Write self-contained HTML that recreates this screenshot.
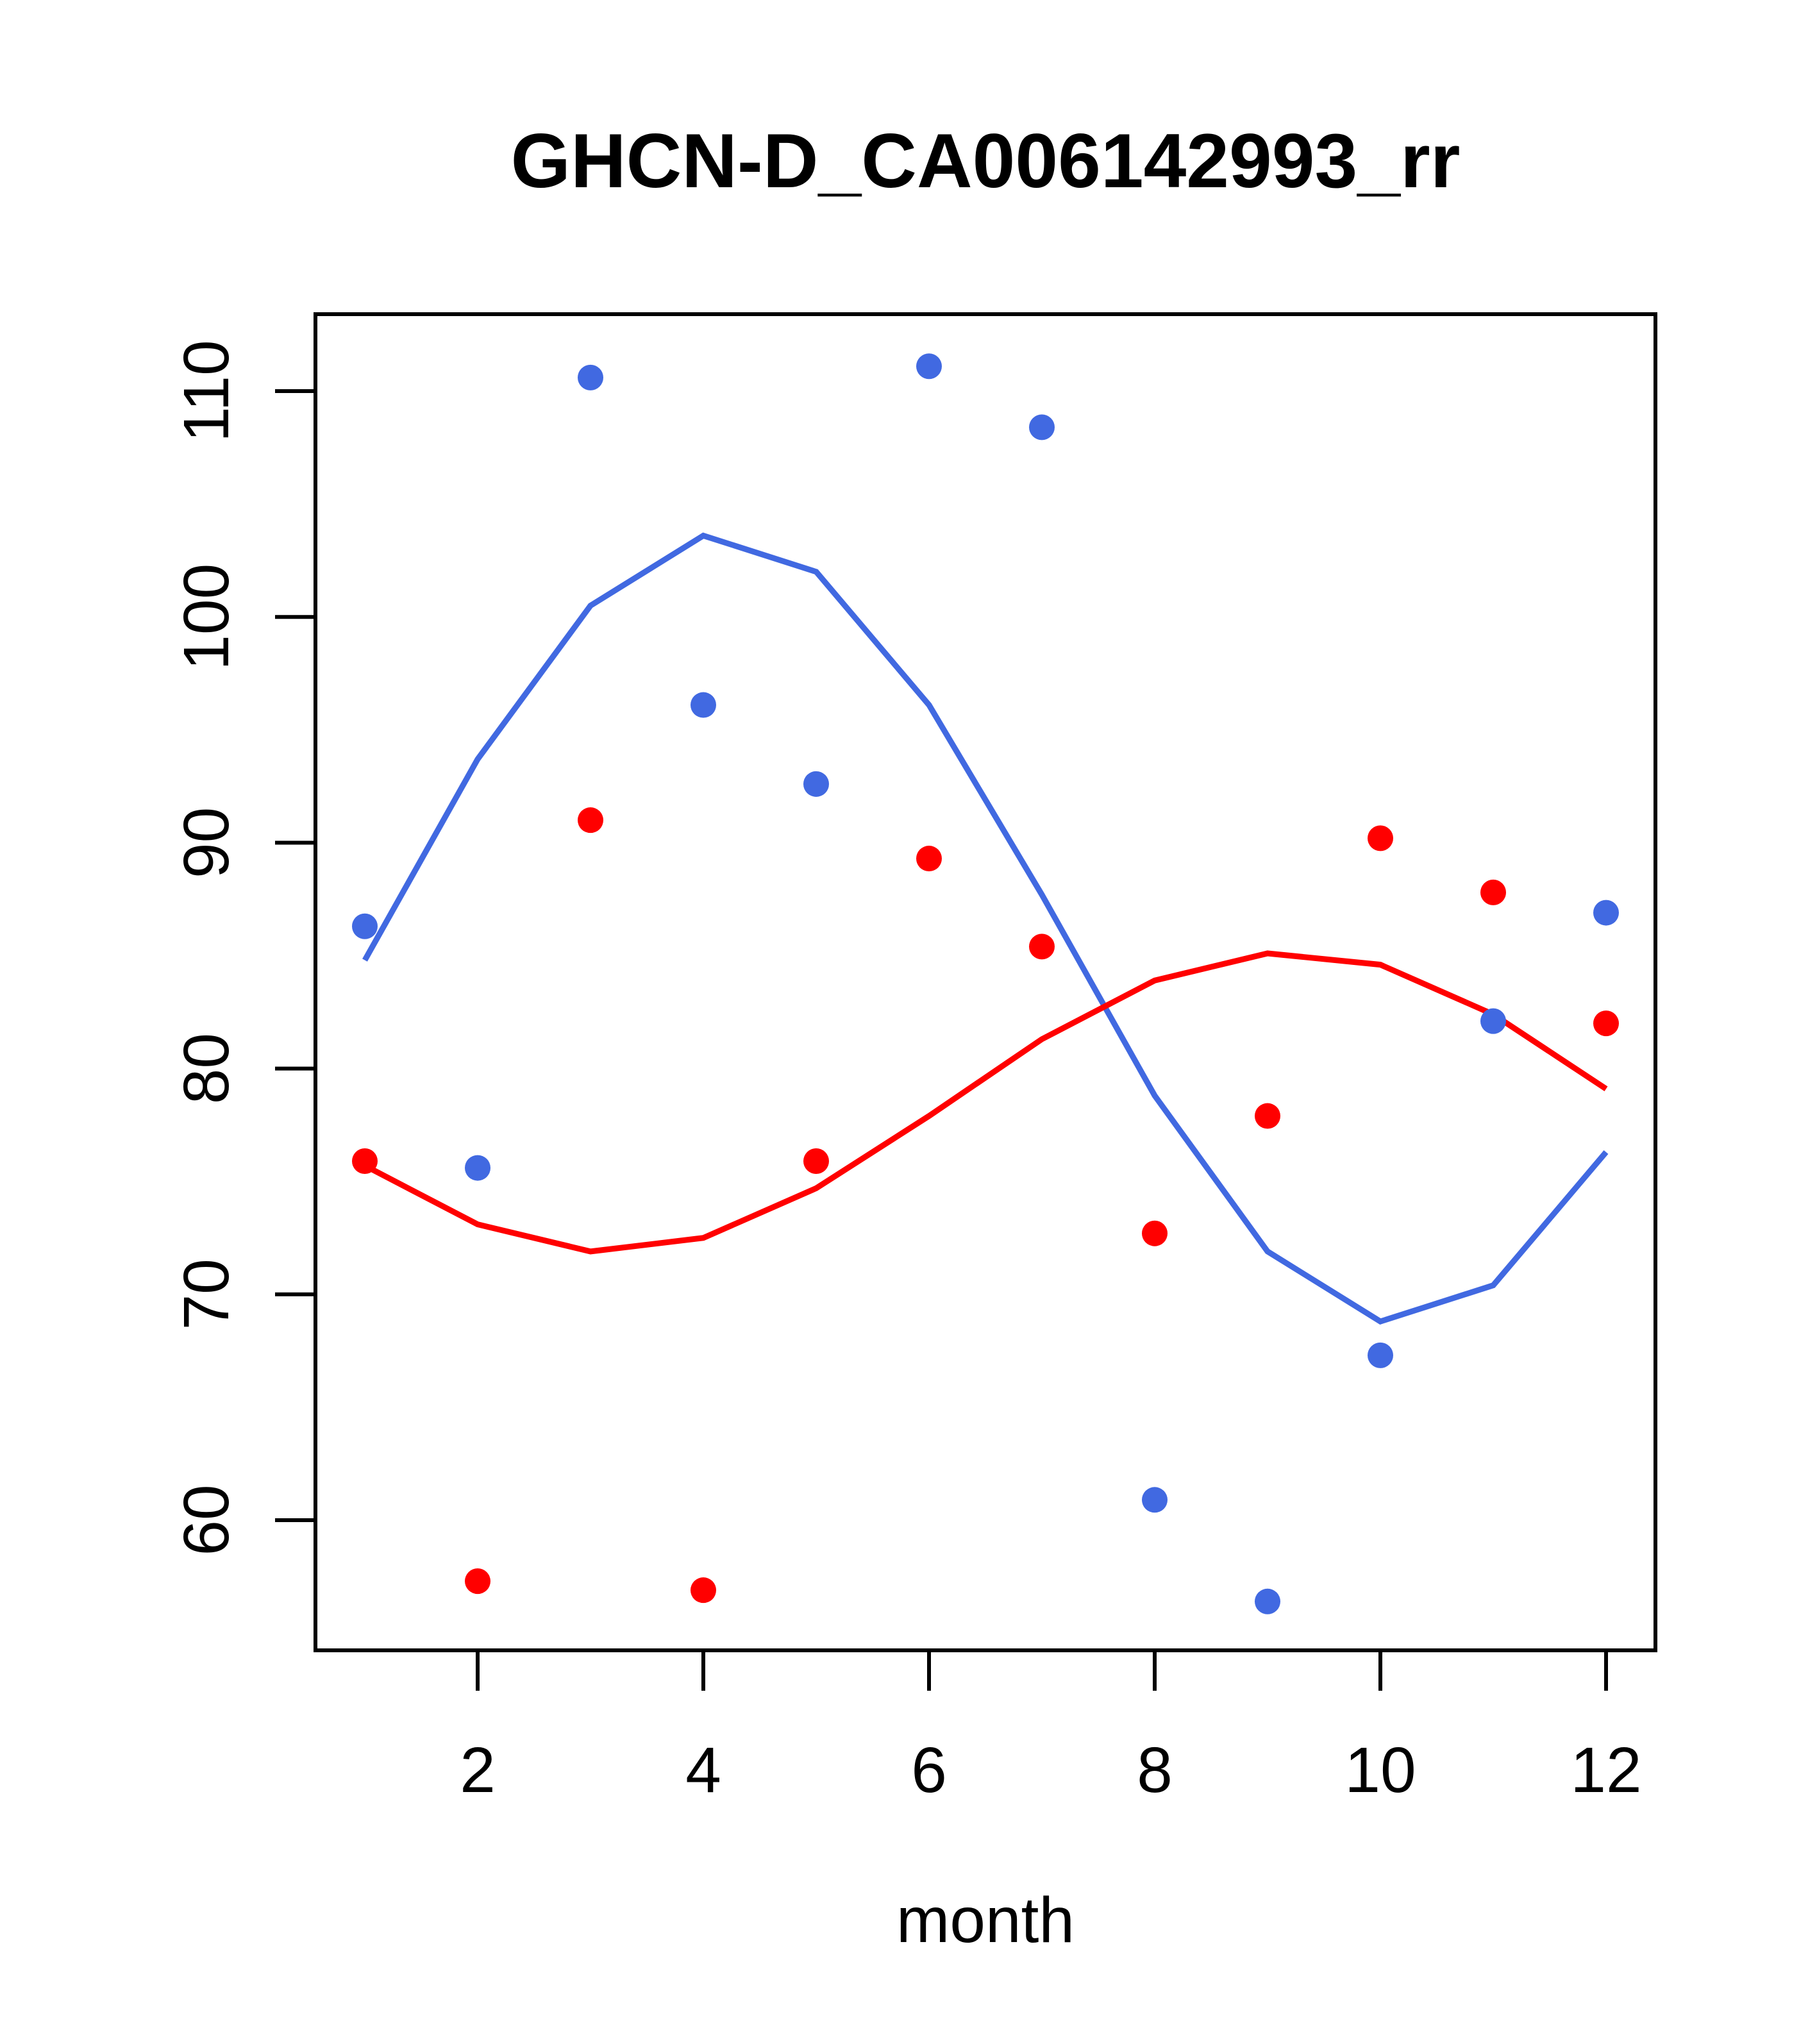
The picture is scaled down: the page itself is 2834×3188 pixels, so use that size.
<!DOCTYPE html>
<html><head><meta charset="utf-8"><style>html,body{margin:0;padding:0;background:#fff}svg{display:block}text{font-family:"Liberation Sans",sans-serif}</style></head>
<body>
<svg id="chart" width="2834" height="3188" xmlns="http://www.w3.org/2000/svg">
<text x="1537" y="292" font-size="120" font-weight="bold" text-anchor="middle">GHCN-D_CA006142993_rr</text>
<rect x="492" y="490" width="2090" height="2084" fill="none" stroke="#000" stroke-width="6"/>
<text x="1537" y="3029" font-size="100" text-anchor="middle">month</text>
<g id="axes"></g><g id="series"></g>
</svg>
<script>
const months=[1,2,3,4,5,6,7,8,9,10,11,12];
const bluePoints=[86.3,75.6,110.6,96.1,92.6,111.1,108.4,60.9,56.4,67.3,82.1,86.9];
const redPoints=[75.9,57.3,91.0,56.9,75.9,89.3,85.4,72.7,77.9,90.2,87.8,82.0];
const blueLine=[84.8,93.7,100.5,103.6,102.0,96.1,87.7,78.8,71.9,68.8,70.4,76.3];
const redLine=[75.7,73.1,71.9,72.5,74.7,77.9,81.3,83.9,85.1,84.6,82.4,79.1];
const xTicks=[2,4,6,8,10,12];
const yTicks=[60,70,80,90,100,110];
const NS="http://www.w3.org/2000/svg";
function sx(v){return 569+(v-1)*(2505-569)/11;}
function sy(v){return 2371-(v-60)*(2371-610)/50;}
function mk(tag,attrs,parent){const e=document.createElementNS(NS,tag);for(const k in attrs)e.setAttribute(k,attrs[k]);parent.appendChild(e);return e;}
const ax=document.getElementById('axes'),se=document.getElementById('series');
xTicks.forEach(t=>{
 const l=mk('line',{x1:sx(t),x2:sx(t),y1:2574,y2:2637,stroke:'#000','stroke-width':6},ax);
 
 
 const tx=mk('text',{x:sx(t),y:2795,'font-size':100,'text-anchor':'middle'},ax);tx.textContent=t;
 
 
});
yTicks.forEach(t=>{
 const l=mk('line',{x1:429,x2:492,y1:sy(t),y2:sy(t),stroke:'#000','stroke-width':6},ax);
 
 
 const tx=mk('text',{x:0,y:0,'font-size':100,'text-anchor':'middle',transform:`translate(356,${sy(t)}) rotate(-90)`},ax);tx.textContent=t;
 
 
});
function line(vals,color,name){
 const p=mk('polyline',{points:vals.map((v,i)=>sx(months[i])+','+sy(v)).join(' '),fill:'none',stroke:color,'stroke-width':9},se);
 
 
}
function pts(vals,color,name){
 vals.forEach((v,i)=>{const c=mk('circle',{cx:sx(months[i]),cy:sy(v),r:20,fill:color},se);
 
 });
}
line(blueLine,'#4169E1','blue-line');
line(redLine,'#FF0000','red-line');
pts(bluePoints,'#4169E1','blue-point');
pts(redPoints,'#FF0000','red-point');
</script>
</body></html>
